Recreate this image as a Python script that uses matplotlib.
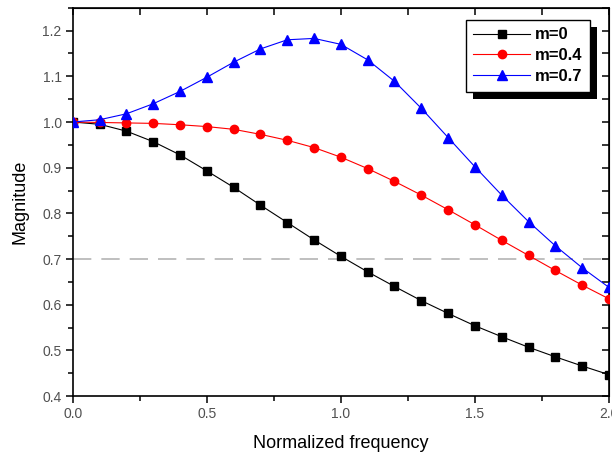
import numpy as np
import matplotlib
matplotlib.use("Agg")
import matplotlib.pyplot as plt
from matplotlib.patches import Rectangle
from matplotlib.ticker import MultipleLocator

plt.rcParams['font.family'] = ['Liberation Sans', 'DejaVu Sans']

freq = [0.0, 0.1, 0.2, 0.3, 0.4, 0.5, 0.6, 0.7, 0.8, 0.9, 1.0,
        1.1, 1.2, 1.3, 1.4, 1.5, 1.6, 1.7, 1.8, 1.9, 2.0]
mag_m0 = [1.000, 0.995, 0.980, 0.957, 0.928, 0.893, 0.857, 0.818, 0.780, 0.742, 0.706,
          0.672, 0.640, 0.609, 0.581, 0.554, 0.530, 0.507, 0.486, 0.466, 0.447]
mag_m04 = [1.000, 0.999, 0.998, 0.997, 0.994, 0.990, 0.984, 0.973, 0.960, 0.944, 0.923,
           0.898, 0.870, 0.840, 0.808, 0.775, 0.741, 0.708, 0.675, 0.643, 0.613]
mag_m07 = [1.000, 1.005, 1.018, 1.040, 1.067, 1.098, 1.131, 1.160, 1.180, 1.183, 1.170,
           1.136, 1.089, 1.030, 0.966, 0.902, 0.840, 0.782, 0.729, 0.681, 0.638]
labels = ['m=0', 'm=0.4', 'm=0.7']
ref_level = 0.7

fig = plt.figure(figsize=(6.12, 4.59), dpi=100)
ax = fig.add_axes([0.119, 0.137, 0.876, 0.846])

ax.axhline(ref_level, color='#b4b4b4', lw=1.2, dashes=(11, 6), zorder=1)

ax.plot(freq, mag_m0, color='black', lw=0.8, marker='s', ms=5.5, label=labels[0], zorder=3)
ax.plot(freq, mag_m04, color='red', lw=0.8, marker='o', ms=6, label=labels[1], zorder=3)
ax.plot(freq, mag_m07, color='blue', lw=0.8, marker='^', ms=7.5, label=labels[2], zorder=3)

ax.set_xlim(0, 2.0)
ax.set_ylim(0.4, 1.25)
ax.xaxis.set_major_locator(MultipleLocator(0.5))
ax.xaxis.set_minor_locator(MultipleLocator(0.25))
ax.yaxis.set_major_locator(MultipleLocator(0.1))
ax.yaxis.set_minor_locator(MultipleLocator(0.05))
ax.xaxis.set_major_formatter(matplotlib.ticker.FormatStrFormatter('%.1f'))
ax.yaxis.set_major_formatter(matplotlib.ticker.FormatStrFormatter('%.1f'))

ax.tick_params(which='major', direction='out', length=5, width=1.1,
               labelsize=10, labelcolor='#505050', pad=3)
ax.tick_params(which='minor', direction='out', length=3.5, width=1.1)
for sp in ax.spines.values():
    sp.set_linewidth(1.2)

# mirrored inward ticks on the top and right sides
top = ax.secondary_xaxis('top')
top.xaxis.set_major_locator(MultipleLocator(0.25))
top.tick_params(direction='in', length=5, width=1.1, labeltop=False)
right = ax.secondary_yaxis('right')
right.yaxis.set_major_locator(MultipleLocator(0.05))
right.tick_params(direction='in', length=5, width=1.1, labelright=False)

ax.set_xlabel('Normalized frequency', fontsize=13, labelpad=10)
ax.set_ylabel('Magnitude', fontsize=13, labelpad=10)

leg = ax.legend(loc='upper right', bbox_to_anchor=(0.9646, 0.969), borderaxespad=0,
                fancybox=False, framealpha=1, edgecolor='black',
                prop={'weight': 'bold', 'size': 12}, handlelength=3.4,
                handletextpad=0.3, labelspacing=0.35, borderpad=0.45)
leg.get_frame().set_linewidth(1.0)
leg.set_zorder(6)

# solid drop shadow behind the legend box
fig.canvas.draw()
bb = leg.get_window_extent()
shadow = Rectangle((bb.x0 + 7, bb.y0 - 7), bb.width, bb.height,
                   transform=None, facecolor='black', edgecolor='none', zorder=5)
ax.add_patch(shadow)

fig.savefig('out.png', dpi=100)
